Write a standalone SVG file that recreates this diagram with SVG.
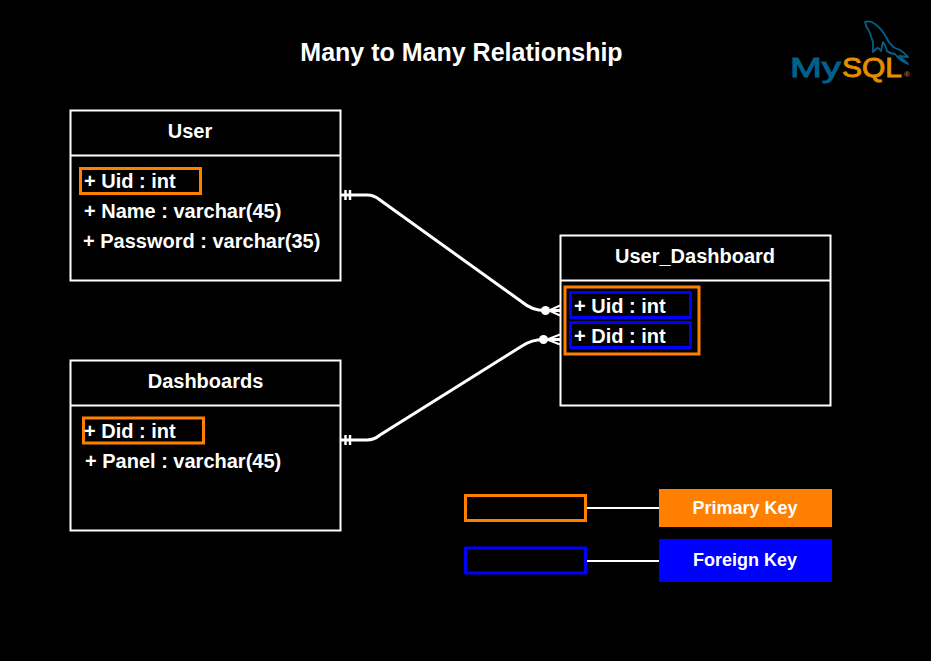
<svg xmlns="http://www.w3.org/2000/svg" width="931" height="661" viewBox="0 0 931 661">
<style>
text{font-family:"Liberation Sans",Arial,sans-serif;font-weight:bold;fill:#fff;font-size:20px}
.m{text-anchor:middle}
.box{fill:#000;stroke:#fff;stroke-width:2}
.pk{fill:none;stroke:#ff8000;stroke-width:3}
.fk{fill:none;stroke:#00f;stroke-width:3}
.c{fill:none;stroke:#fff;stroke-width:3}
.t{fill:none;stroke:#fff;stroke-width:2}
.legend{font-size:18px}
.logo{font-size:27px;font-weight:normal}
</style>
<rect width="931" height="661" fill="#000"/>
<text id="title" class="m" x="461.500" y="61" style="font-size:25px">Many to Many Relationship</text>
<g id="logo">
<path d="M865 22Q870 20 875 24Q882 29 886 37Q890 45 895 48Q902 50 908 57L899 56Q904 60 908 64Q900 61 895 54Q889 53 887 51Q886 46 883 42Q882 47 881 51Q878 47 877 48L873 52Q873 46 873 42Q871 36 869 31Q866 27 865 22Z" fill="none" stroke="#00618a" stroke-width="1.800" stroke-linejoin="round"/>
<text class="logo" x="790" y="77" textLength="51" lengthAdjust="spacingAndGlyphs" style="fill:#00618a;stroke:#00618a;stroke-width:.9">My</text>
<text class="logo" x="842" y="77" textLength="60" lengthAdjust="spacingAndGlyphs" style="fill:#e48e00;stroke:#e48e00;stroke-width:.9">SQL</text>
<text x="904" y="77" style="fill:#b5761a;font-size:8px">®</text>
</g>
<g id="connectors">
<path class="c" d="M341 195H367Q374 195 380 200L522 302Q532 310.500 545 310.500H560"/>
<path class="c" d="M341 440H367Q374 440 380 435L522 346Q532 339.500 543 339.500H560"/>
<path class="c" style="stroke-width:2.500" d="M345.500 190V200M350 190V200M345.500 435V445M350 435V445"/>
<circle cx="545.500" cy="310.500" r="4.500" fill="#fff"/>
<circle cx="543.500" cy="339.500" r="4.500" fill="#fff"/>
<path class="t" d="M560 305.500L549 310.500L560 315.500M560 334.500L547 339.500L560 344.500"/>
<path class="c" style="stroke-width:2" d="M586 508H660M586 561H660"/>
</g>
<g id="user">
<rect class="box" x="70.500" y="110.500" width="270" height="170"/>
<path class="t" d="M70.500 155.500H340.500"/>
<text class="m" x="190" y="138">User</text>
<rect class="pk" x="80.500" y="168.500" width="120" height="25"/>
<text x="84" y="188">+ Uid : int</text>
<text x="84" y="218">+ Name : varchar(45)</text>
<text x="83" y="248">+ Password : varchar(35)</text>
</g>
<g id="dashboards">
<rect class="box" x="70.500" y="360.500" width="270" height="170"/>
<path class="t" d="M70.500 405.500H340.500"/>
<text class="m" x="205.500" y="388">Dashboards</text>
<rect class="pk" x="83.500" y="418" width="120" height="25"/>
<text x="84" y="438">+ Did : int</text>
<text x="85" y="468">+ Panel : varchar(45)</text>
</g>
<g id="user_dashboard">
<rect class="box" x="560.500" y="235.500" width="270" height="170"/>
<path class="t" d="M560.500 280.500H830.500"/>
<text class="m" x="695" y="263">User_Dashboard</text>
<rect class="pk" x="565" y="287" width="134" height="67"/>
<rect class="fk" x="570.500" y="292.500" width="120" height="25"/>
<rect class="fk" x="570.500" y="322.500" width="120" height="25"/>
<text x="574" y="313">+ Uid : int</text>
<text x="574" y="343">+ Did : int</text>
</g>
<g id="legend_pk">
<rect class="pk" x="465.500" y="495.500" width="120" height="25"/>
<rect x="659" y="489" width="173" height="38" fill="#ff8000"/>
<text class="m legend" x="745" y="514">Primary Key</text>
</g>
<g id="legend_fk">
<rect class="fk" x="465.500" y="548" width="120" height="25"/>
<rect x="659" y="539" width="173" height="43" fill="#00f"/>
<text class="m legend" x="745" y="566">Foreign Key</text>
</g>
</svg>
